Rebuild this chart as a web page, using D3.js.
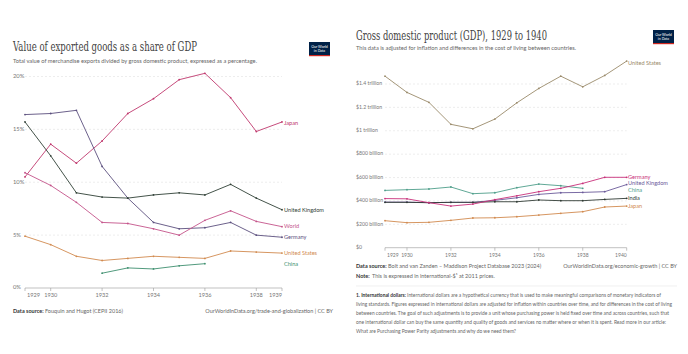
<!DOCTYPE html>
<html>
<head>
<meta charset="utf-8">
<script src="https://cdn.jsdelivr.net/npm/d3@7"></script>
<style>
  body { margin: 0; background: #fff; }
  text { font-family: Lato, "Noto Sans", sans-serif; }
  .serif { font-family: "DejaVu Serif", "Liberation Serif", serif; }
</style>
</head>
<body>
<svg id="chart" width="688" height="354"></svg>
<script>
//////////////////////////////////////////////////////////////////////////////
// Data

var yearsExp = [1929, 1930, 1931, 1932, 1933, 1934, 1935, 1936, 1937, 1938, 1939];
var japanExp   = [10.5, 13.6, 11.8, 13.9, 16.5, 17.9, 19.7, 20.3, 18.0, 14.8, 15.7];
var ukExp      = [15.7, 12.5, 9.0, 8.6, 8.5, 8.8, 9.0, 8.8, 9.8, 8.5, 7.4];
var worldExp   = [10.9, 9.7, 8.1, 6.2, 6.1, 5.6, 5.0, 6.4, 7.3, 6.3, 5.8];
var germanyExp = [16.4, 16.5, 16.8, 11.5, 8.5, 6.2, 5.6, 5.7, 6.2, 5.0, 4.8];
var usExp      = [4.9, 4.1, 3.0, 2.6, 2.8, 3.0, 2.9, 2.8, 3.5, 3.4, 3.3];
var chinaExp   = [null, null, null, 1.4, 1.9, 1.8, 2.1, 2.3, null, null, null];
var expTicks = [0, 5, 10, 15, 20];
var expYearTicks = [1929, 1930, 1932, 1934, 1936, 1938, 1939];

var yearsGdp = [1929, 1930, 1931, 1932, 1933, 1934, 1935, 1936, 1937, 1938, 1939, 1940];
var usGdp      = [1467, 1328, 1243, 1055, 1017, 1100, 1239, 1362, 1467, 1376, 1473, 1596];
var germanyGdp = [420, 418, 385, 356, 373, 411, 444, 479, 508, 550, 602, 602];
var ukGdp      = [390, 390, 385, 388, 388, 405, 427, 456, 470, 473, 479, 540];
var chinaGdp   = [490, 496, 502, 519, 462, 470, 513, 544, 530, 508, null, null];
var indiaGdp   = [388, 388, 385, 388, 388, 393, 393, 408, 402, 402, 413, 422];
var japanGdp   = [231, 214, 217, 234, 254, 256, 265, 279, 294, 308, 348, 356];
var gdpTicks = [0, 200, 400, 600, 800, 1000, 1200, 1400];
var gdpTickLabels = ["$0", "$200 billion", "$400 billion", "$600 billion", "$800 billion",
                     "$1 trillion", "$1.2 trillion", "$1.4 trillion"];
var gdpYearTicks = [1929, 1930, 1932, 1934, 1936, 1938, 1940];

var footnoteLines = [
  "International dollars are a hypothetical currency that is used to make meaningful comparisons of monetary indicators of",
  "living standards. Figures expressed in international dollars are adjusted for inflation within countries over time, and for differences in the cost of living",
  "between countries. The goal of such adjustments is to provide a unit whose purchasing power is held fixed over time and across countries, such that",
  "one international dollar can buy the same quantity and quality of goods and services no matter where or when it is spent. Read more in our article:",
  "What are Purchasing Power Parity adjustments and why do we need them?"
];
var footnoteWidths = [305, 316, 313, 310, 160];

//////////////////////////////////////////////////////////////////////////////
// Helpers

var svg = d3.select("#chart");
svg.append("rect").attr("width", 688).attr("height", 354).attr("fill", "#fff");

function logo(x, y) {
    var g = svg.append("g").attr("transform", "translate(" + x + "," + y + ")");
    g.append("rect").attr("width", 21).attr("height", 14).attr("fill", "#002147");
    g.append("rect").attr("y", 13).attr("width", 21).attr("height", 1.2).attr("fill", "#ce261e");
    g.append("text").attr("x", 10.5).attr("y", 5.6).attr("text-anchor", "middle")
        .attr("font-size", 3.6).attr("fill", "#fff").text("Our World");
    g.append("text").attr("x", 10.5).attr("y", 10).attr("text-anchor", "middle")
        .attr("font-size", 3.6).attr("fill", "#fff").text("in Data");
}

function text(x, y, str, size, color, anchor, len) {
    var t = svg.append("text")
        .attr("x", x).attr("y", y)
        .attr("font-size", size)
        .attr("fill", color)
        .attr("text-anchor", anchor || "start")
        .text(str);
    if (len) t.attr("textLength", len).attr("lengthAdjust", "spacingAndGlyphs");
    return t;
}

function drawSeries(x, y, years, series) {
    series.forEach(function(s) {
        var pts = years.map(function(yr, i) { return [yr, s.values[i]]; })
                       .filter(function(p) { return p[1] != null; });
        var line = d3.line()
            .x(function(p) { return x(p[0]); })
            .y(function(p) { return y(p[1]); });
        svg.append("path")
            .attr("d", line(pts))
            .attr("fill", "none")
            .attr("stroke", s.color)
            .attr("stroke-width", 0.9);
        svg.append("g").selectAll("circle")
            .data(pts)
            .enter()
            .append("circle")
            .attr("cx", function(p) { return x(p[0]); })
            .attr("cy", function(p) { return y(p[1]); })
            .attr("r", 0.9)
            .attr("fill", s.color);
        text(s.labelX, s.labelY, s.name, 5.6, s.color).attr("dominant-baseline", "middle");
    });
}

function xAxis(x, y0, ticks, size) {
    var first = ticks[0], last = ticks[ticks.length - 1];
    svg.append("line")
        .attr("x1", x.range()[0]).attr("x2", x.range()[1])
        .attr("y1", y0).attr("y2", y0)
        .attr("stroke", "#999").attr("stroke-width", 0.6);
    ticks.forEach(function(t) {
        svg.append("line")
            .attr("x1", x(t)).attr("x2", x(t))
            .attr("y1", y0).attr("y2", y0 + 3)
            .attr("stroke", "#999").attr("stroke-width", 0.6);
        var anchor = t === first ? "start" : (t === last ? "end" : "middle");
        text(x(t) + (t === first ? 2 : 0), y0 + 9, t, size, "#777", anchor);
    });
}

function gridY(x, y, ticks, labels, labelX, size) {
    ticks.forEach(function(t, i) {
        if (t !== 0) {
            svg.append("line")
                .attr("x1", x.range()[0]).attr("x2", x.range()[1])
                .attr("y1", y(t)).attr("y2", y(t))
                .attr("stroke", "#e0e0e0").attr("stroke-width", 0.6)
                .attr("stroke-dasharray", "2,2");
        }
        text(labelX, y(t), labels[i], size, "#777").attr("dominant-baseline", "middle");
    });
}

//////////////////////////////////////////////////////////////////////////////
// Left chart: exports share of GDP

logo(309, 42);
text(13, 51, "Value of exported goods as a share of GDP", 13, "#444", "start", 184)
    .attr("class", "serif");
text(13, 62.5, "Total value of merchandise exports divided by gross domestic product, expressed as a percentage.",
     5.8, "#666", "start", 244);

var xExp = d3.scaleLinear().domain([1929, 1939]).range([25, 282]);
var yExp = d3.scaleLinear().domain([0, 20]).range([288, 76.5]);

gridY(xExp, yExp, expTicks, expTicks.map(function(t) { return t + "%"; }), 13, 5.8);
xAxis(xExp, 288, expYearTicks, 5.6);

drawSeries(xExp, yExp, yearsExp, [
    { name: "Japan",          values: japanExp,   color: "#c0386d", labelX: 284, labelY: 124 },
    { name: "Germany",        values: germanyExp, color: "#5b4f7e", labelX: 284, labelY: 238 },
    { name: "United Kingdom", values: ukExp,      color: "#2f3f35", labelX: 284, labelY: 211 },
    { name: "World",          values: worldExp,   color: "#c4538a", labelX: 284, labelY: 227 },
    { name: "United States",  values: usExp,      color: "#d18a4f", labelX: 284, labelY: 254 },
    { name: "China",          values: chinaExp,   color: "#3d8f6e", labelX: 284, labelY: 264.5 }
]);

text(13, 313, "Data source:", 5.5, "#333").attr("font-weight", "bold");
text(45, 313, "Fouquin and Hugot (CEPII 2016)", 5.5, "#666");
text(333, 313, "OurWorldInData.org/trade-and-globalization | CC BY", 5.5, "#666", "end");

//////////////////////////////////////////////////////////////////////////////
// Right chart: GDP

logo(653, 30);
text(356, 40, "Gross domestic product (GDP), 1929 to 1940", 13, "#444", "start", 191)
    .attr("class", "serif");
text(356, 50, "This data is adjusted for inflation and differences in the cost of living between countries.",
     5.8, "#666", "start", 220);

var xGdp = d3.scaleLinear().domain([1929, 1940]).range([385, 626.7]);
var yGdp = d3.scaleLinear().domain([0, 1400]).range([247.7, 84]);

gridY(xGdp, yGdp, gdpTicks, gdpTickLabels, 356, 5.2);
xAxis(xGdp, 247.7, gdpYearTicks, 5.0);

drawSeries(xGdp, yGdp, yearsGdp, [
    { name: "United States",  values: usGdp,      color: "#9a8a6a", labelX: 628, labelY: 64 },
    { name: "China",          values: chinaGdp,   color: "#4e9e8a", labelX: 628, labelY: 190.7 },
    { name: "United Kingdom", values: ukGdp,      color: "#6b5a9a", labelX: 628, labelY: 184 },
    { name: "India",          values: indiaGdp,   color: "#2f3a33", labelX: 628, labelY: 198.3 },
    { name: "Germany",        values: germanyGdp, color: "#c8307a", labelX: 628, labelY: 177.3 },
    { name: "Japan",          values: japanGdp,   color: "#d18a4f", labelX: 628, labelY: 206.3 }
]);

text(356, 268, "Data source:", 5.5, "#333").attr("font-weight", "bold");
text(388, 268, "Bolt and van Zanden \u2013 Maddison Project Database 2023 (2024)", 5.5, "#666");
text(677, 268, "OurWorldInData.org/economic-growth | CC BY", 5.5, "#666", "end");
text(356, 277.5, "Note:", 5.5, "#333").attr("font-weight", "bold");
text(372, 277.5, "This is expressed in international-$\u00b9 at 2011 prices.", 5.5, "#666");

svg.append("line")
    .attr("x1", 356).attr("x2", 677).attr("y1", 286).attr("y2", 286)
    .attr("stroke", "#e6e6e6").attr("stroke-width", 0.6);

footnoteLines.forEach(function(line, i) {
    var t = svg.append("text")
        .attr("x", 356).attr("y", 297 + i * 9)
        .attr("font-size", 5)
        .attr("fill", "#666")
        .attr("textLength", footnoteWidths[i])
        .attr("lengthAdjust", "spacingAndGlyphs");
    if (i === 0) {
        t.append("tspan").attr("font-weight", "bold").attr("fill", "#333")
            .text("1. International dollars: ");
    }
    t.append("tspan").text(line);
});
</script>
</body>
</html>
